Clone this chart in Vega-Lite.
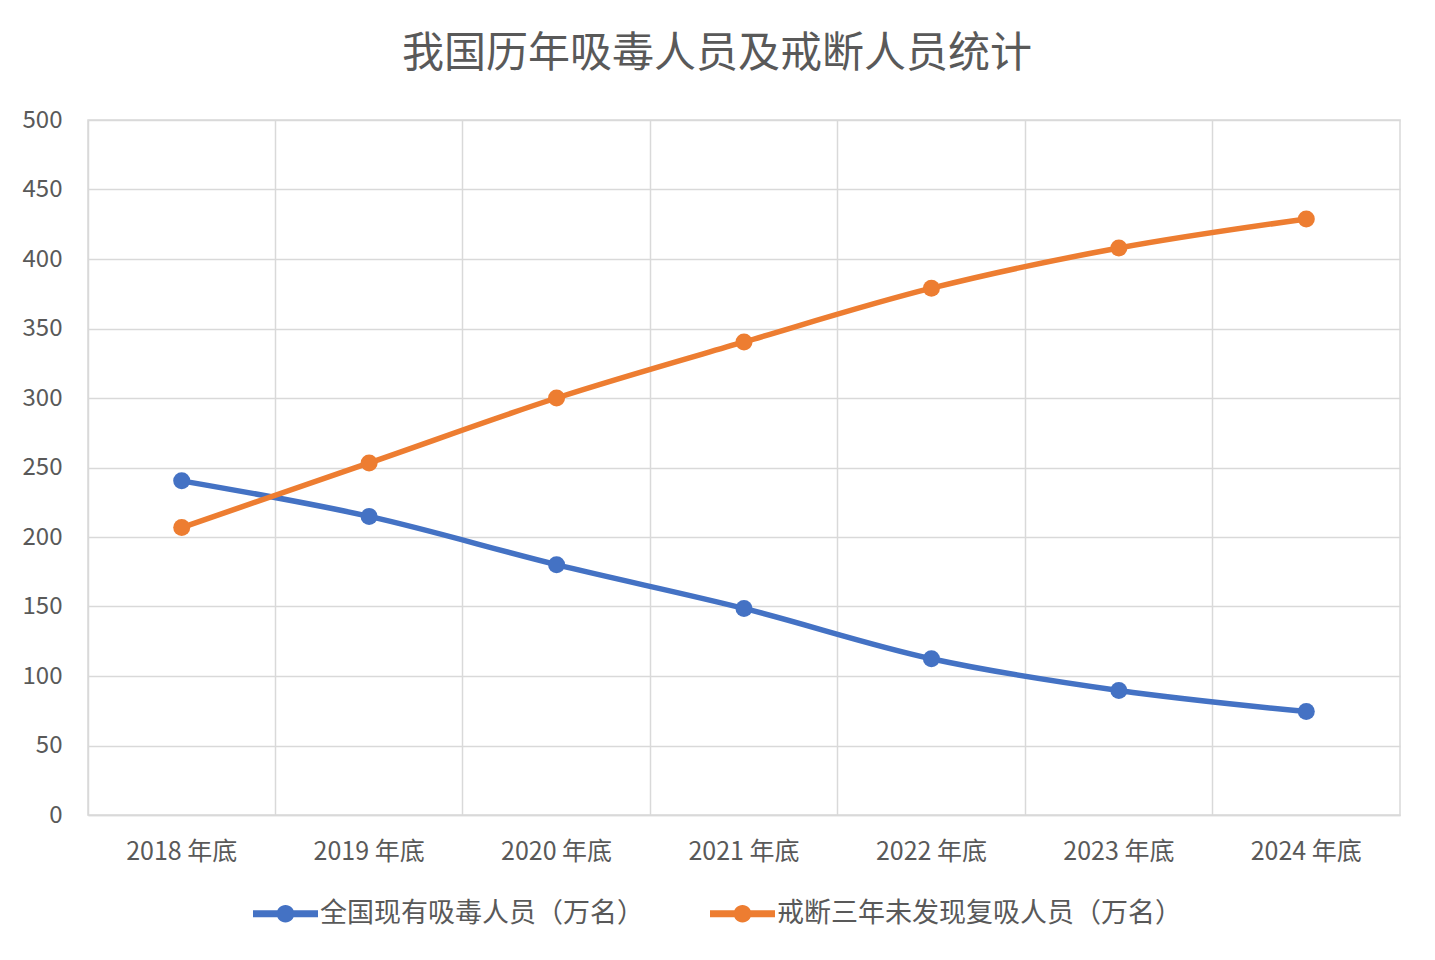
{
  "$schema": "https://vega.github.io/schema/vega-lite/v6.json",
  "autosize": "none",
  "width": 1312,
  "height": 695,
  "padding": {"left": 88, "top": 120, "right": 35, "bottom": 145},
  "background": "white",
  "title": {
    "text": "我国历年吸毒人员及戒断人员统计",
    "font": "Noto Sans CJK SC",
    "fontSize": 42,
    "fontWeight": "normal",
    "color": "#595959",
    "anchor": "middle",
    "dx": -27,
    "offset": 32
  },
  "data": {
    "values": [
      {"year": "2018 年底", "series": "全国现有吸毒人员（万名）", "value": 240.4},
      {"year": "2019 年底", "series": "全国现有吸毒人员（万名）", "value": 214.8},
      {"year": "2020 年底", "series": "全国现有吸毒人员（万名）", "value": 180.1},
      {"year": "2021 年底", "series": "全国现有吸毒人员（万名）", "value": 148.6},
      {"year": "2022 年底", "series": "全国现有吸毒人员（万名）", "value": 112.4},
      {"year": "2023 年底", "series": "全国现有吸毒人员（万名）", "value": 89.6},
      {"year": "2024 年底", "series": "全国现有吸毒人员（万名）", "value": 74.4},
      {"year": "2018 年底", "series": "戒断三年未发现复吸人员（万名）", "value": 206.8},
      {"year": "2019 年底", "series": "戒断三年未发现复吸人员（万名）", "value": 253.3},
      {"year": "2020 年底", "series": "戒断三年未发现复吸人员（万名）", "value": 300},
      {"year": "2021 年底", "series": "戒断三年未发现复吸人员（万名）", "value": 340.3},
      {"year": "2022 年底", "series": "戒断三年未发现复吸人员（万名）", "value": 379},
      {"year": "2023 年底", "series": "戒断三年未发现复吸人员（万名）", "value": 407.9},
      {"year": "2024 年底", "series": "戒断三年未发现复吸人员（万名）", "value": 428.8}
    ]
  },
  "encoding": {
    "x": {
      "field": "year",
      "type": "ordinal",
      "title": null,
      "bandPosition": 0.5,
      "scale": {"type": "band", "paddingInner": 0, "paddingOuter": 0},
      "axis": {
        "bandPosition": 0,
        "grid": true,
        "gridColor": "#d9d9d9",
        "gridWidth": 1.5,
        "domain": true,
        "domainColor": "#d9d9d9",
        "domainWidth": 1.5,
        "ticks": false,
        "labelAngle": 0,
        "labelFont": "Noto Sans CJK SC",
        "labelFontSize": 25,
        "labelColor": "#595959",
        "labelPadding": 24
      }
    },
    "y": {
      "field": "value",
      "type": "quantitative",
      "title": null,
      "scale": {"domain": [0, 500], "nice": false},
      "axis": {
        "values": [0, 50, 100, 150, 200, 250, 300, 350, 400, 450, 500],
        "grid": true,
        "gridColor": "#d9d9d9",
        "gridWidth": 1.5,
        "domain": false,
        "ticks": false,
        "labelFont": "Noto Sans CJK SC",
        "labelFontSize": 24,
        "labelColor": "#595959",
        "labelPadding": 26
      }
    },
    "color": {
      "field": "series",
      "type": "nominal",
      "sort": ["全国现有吸毒人员（万名）", "戒断三年未发现复吸人员（万名）"],
      "scale": {"range": ["#4472c4", "#ed7d31"]},
      "title": null,
      "legend": {
        "orient": "none",
        "legendX": 165,
        "legendY": 761,
        "direction": "horizontal",
        "symbolType": "M-1,-0.105H1V0.105H-1Z M0.27,0A0.27,0.27,0,1,1,-0.27,0A0.27,0.27,0,1,1,0.27,0Z",
        "symbolSize": 4225,
        "symbolStrokeWidth": 0,
        "symbolOpacity": 1,
        "labelFont": "Noto Sans CJK SC",
        "labelFontSize": 27,
        "labelColor": "#595959",
        "labelOffset": 2,
        "labelLimit": 500,
        "columnPadding": 66
      }
    }
  },
  "layer": [
    {"mark": {"type": "line", "strokeWidth": 5.5, "strokeCap": "round", "interpolate": "monotone"}},
    {"mark": {"type": "point", "filled": true, "opacity": 1, "size": 290, "shape": "circle"}}
  ],
  "config": {
    "view": {"stroke": "#d9d9d9", "strokeWidth": 1.5}
  }
}
